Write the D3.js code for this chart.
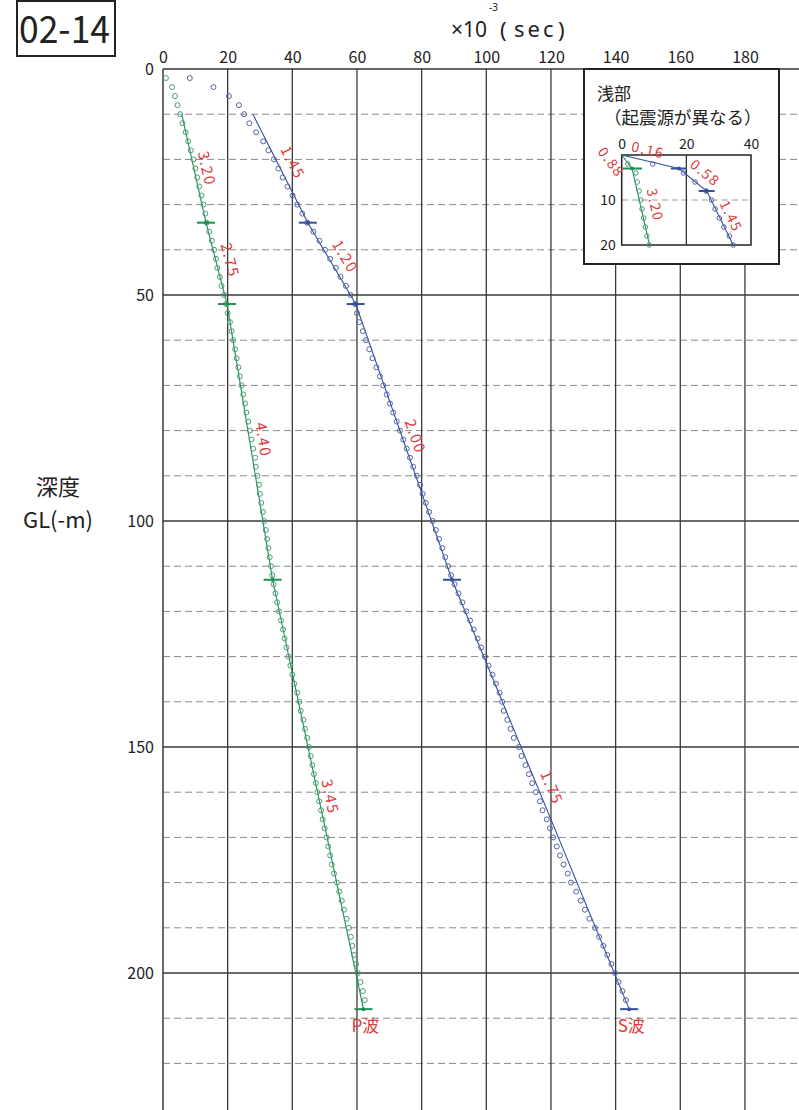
<!DOCTYPE html>
<html>
<head>
<meta charset="utf-8">
<script src="https://cdn.jsdelivr.net/npm/d3@7"></script>
<style>
  body { margin: 0; background: #fff; }
  svg { display: block; font-family: "Noto Sans CJK JP", "Noto Sans", sans-serif; }
</style>
</head>
<body>
<div id="chart"></div>
<script>
// measured depths (m) and arrival times (x10^-3 sec)
const depths = [2,4,6,8,10,12,14,16,18,20,22,24,26,28,30,32,34,36,38,40,42,44,46,48,50,52,54,56,58,60,
  62,64,66,68,70,72,74,76,78,80,82,84,86,88,90,92,94,96,98,100,102,104,106,108,110,112,114,116,118,120,
  122,124,126,128,130,132,134,136,138,140,142,144,146,148,150,152,154,156,158,160,162,164,166,168,170,
  172,174,176,178,180,182,184,186,188,190,192,194,196,198,200,202,204,206];
const pTimes = [0.9,2.8,3.7,4.5,5.3,6.0,7.0,7.8,8.6,9.4,10.0,10.6,11.2,11.9,12.5,13.1,13.5,14.3,15.1,15.8,
  16.4,16.8,17.6,18.1,18.9,19.5,20.0,20.7,21.2,21.7,22.3,22.8,23.3,23.8,24.3,24.8,25.4,25.8,26.4,26.9,
  27.4,27.9,28.5,28.7,29.2,29.7,30.0,30.4,30.9,31.3,31.8,32.2,32.6,33.0,33.4,33.8,34.2,34.8,35.3,35.9,
  36.5,37.1,37.6,38.2,38.8,39.4,40.0,40.6,41.5,42.2,42.6,43.4,43.9,44.6,45.1,45.7,46.2,46.7,47.3,47.7,
  48.3,48.9,49.4,50.0,50.6,51.1,51.7,52.2,52.9,53.8,54.5,55.3,56.0,56.8,57.5,58.1,58.6,59.1,59.7,60.3,
  61.1,61.8,62.4];
const sTimes = [8.3,15.6,20.4,23.5,25.1,26.7,28.8,31.0,32.6,34.3,35.7,37.0,38.5,40.1,41.5,43.1,44.6,46.5,48.4,50.1,
  51.7,53.5,54.9,56.6,58.0,59.4,60.0,60.7,61.8,62.8,63.8,64.8,66.0,67.1,68.1,69.2,70.2,71.2,72.3,73.3,
  74.3,75.4,76.4,77.4,78.5,79.5,80.3,81.3,82.3,83.4,84.4,85.4,86.4,87.3,88.2,89.1,90.2,91.4,92.6,93.8,
  95.0,96.1,97.3,98.4,99.6,100.7,101.9,103.0,104.1,104.9,105.4,106.5,107.5,108.5,110.1,110.9,112.1,113.2,114.2,115.3,
  116.6,117.4,118.7,119.7,120.7,121.8,122.8,123.9,125.2,126.2,127.8,129.2,130.5,131.9,133.6,134.9,136.2,137.4,138.7,139.8,
  140.9,142.1,143.2];

// fitted velocity layers (boundary depths and times on the fitted lines)
const layerDepths = [10, 34, 52, 113, 208];
const pLineTimes = [5.8, 13.3, 19.8, 33.9, 62.0];
const sLineTimes = [27.8, 44.8, 59.6, 89.4, 144.2];
const pVelocities = ['3.20', '2.75', '4.40', '3.45'];
const sVelocities = ['1.45', '1.20', '2.00', '1.75'];
const pLabelTimes = [13.5, 20.7, 31.0, 51.7];
const pLabelDepths = [22, 42.3, 82, 161];
const sLabelTimes = [40.1, 56.3, 78.0, 120.2];
const sLabelDepths = [20.7, 41.5, 81.3, 159];
const waveNames = ['P波', 'S波'];

// shallow part (different source)
const insetDepths = [2,4,6,8,10,12,14,16,18,20];
const insetPTimes = [1.9,4.4,4.8,5.4,5.9,6.3,6.8,7.3,7.8,8.5];
const insetSTimes = [9.6,19.1,22.7,26.1,27.8,28.9,30.2,31.6,33.3,34.5];
const insetPLineDepths = [0, 3, 20];
const insetPLineTimes = [0, 3.2, 8.6];
const insetSLineDepths = [0, 3, 8, 20];
const insetSLineTimes = [0, 17.7, 26.3, 34.5];
const insetPVelocities = ['0.88', '3.20'];
const insetPLabelTimes = [-3.3, 10.3];
const insetPLabelDepths = [1.6, 11.1];
const insetSVelocities = ['0.16', '0.58', '1.45'];
const insetSLabelTimes = [8.1, 25.8, 33.8];
const insetSLabelDepths = [-1.1, 4.0, 13.6];

const xTicks = [0, 20, 40, 60, 80, 100, 120, 140, 160, 180];
const yTicks = [0, 50, 100, 150, 200];
const insetXTicks = [0, 20, 40];
const insetYTicks = [10, 20];

const width = 799;
const height = 1110;
const pColor = '#1d8f52';
const sColor = '#34509c';
const pDot = '#4c9a72';
const sDot = '#5563a8';
const red = '#dc3b3b';

const svg = d3.select('#chart')
  .append('svg')
  .attr('width', width)
  .attr('height', height);

const x = d3.scaleLinear().domain([0, 200]).range([163, 163 + 200 * 3.233]);
const y = d3.scaleLinear().domain([0, 230]).range([69, 69 + 230 * 4.52]);

// grid
const grid = svg.append('g').attr('class', 'grid');
grid.selectAll('line.h')
  .data(d3.range(10, 230, 10))
  .enter()
  .append('line')
  .attr('x1', 163).attr('x2', width)
  .attr('y1', function(d) { return y(d); })
  .attr('y2', function(d) { return y(d); })
  .style('stroke', function(d) { return d % 50 === 0 ? '#3a3a3a' : '#8a8a8a'; })
  .style('stroke-width', function(d) { return d % 50 === 0 ? 1.3 : 1; })
  .style('stroke-dasharray', function(d) { return d % 50 === 0 ? null : '7,4'; });

grid.selectAll('line.v')
  .data(xTicks.concat([200]))
  .enter()
  .append('line')
  .attr('x1', function(d) { return x(d); })
  .attr('x2', function(d) { return x(d); })
  .attr('y1', y(0)).attr('y2', height)
  .style('stroke', '#3a3a3a')
  .style('stroke-width', function(d) { return d === 0 ? 1.5 : 1.3; });

grid.append('line')
  .attr('x1', x(0)).attr('x2', width)
  .attr('y1', y(0)).attr('y2', y(0))
  .style('stroke', '#333').style('stroke-width', 1.5);

// axes
const xAxis = d3.axisTop(x).tickValues(xTicks).tickSize(0).tickPadding(6);
svg.append('g')
  .attr('transform', 'translate(0,' + y(0) + ')')
  .call(xAxis)
  .call(function(g) { g.select('.domain').remove(); })
  .selectAll('text')
  .style('font-size', '16px')
  .style('font-family', '"Noto Sans CJK JP", sans-serif')
  .style('fill', '#222');

const yAxis = d3.axisLeft(y).tickValues(yTicks).tickSize(0).tickPadding(9);
svg.append('g')
  .attr('transform', 'translate(' + x(0) + ',0)')
  .call(yAxis)
  .call(function(g) { g.select('.domain').remove(); })
  .selectAll('text')
  .style('font-size', '16px')
  .style('font-family', '"Noto Sans CJK JP", sans-serif')
  .style('fill', '#222');

// titles
svg.append('rect')
  .attr('x', 17).attr('y', 1).attr('width', 98).attr('height', 55)
  .style('fill', 'none').style('stroke', '#222').style('stroke-width', 2);
svg.append('text')
  .text('02-14')
  .attr('x', 19).attr('y', 43)
  .attr('textLength', 91).attr('lengthAdjust', 'spacingAndGlyphs')
  .style('font-size', '38px').style('fill', '#222');

const unit = svg.append('g')
  .style('font-family', '"Noto Sans", sans-serif')
  .style('fill', '#222');
unit.append('text').text('×10').attr('x', 451).attr('y', 37).style('font-size', '21px');
unit.append('text').text('-3').attr('x', 489).attr('y', 11).style('font-size', '10px');
unit.append('text').text('(').attr('x', 500).attr('y', 38).style('font-size', '22px');
unit.append('text').text('sec').attr('x', 514).attr('y', 37)
  .style('font-size', '22px').style('letter-spacing', '3px');
unit.append('text').text(')').attr('x', 558).attr('y', 38).style('font-size', '22px');

svg.append('text').text('深度').attr('x', 58).attr('y', 495)
  .style('text-anchor', 'middle').style('font-size', '22px').style('fill', '#222');
svg.append('text').text('GL(-m)').attr('x', 23).attr('y', 528)
  .attr('textLength', 70).attr('lengthAdjust', 'spacingAndGlyphs')
  .style('font-size', '22px').style('fill', '#222');

// draws one wave: fitted line, points, boundary ticks and velocity labels
function drawWave(parent, xs, ys, d) {
  const g = parent.append('g');
  const line = d3.line()
    .x(function(p) { return xs(p[0]); })
    .y(function(p) { return ys(p[1]); });
  const nodes = d.lineTimes.map(function(t, i) { return [t, d.lineDepths[i]]; });

  g.append('path')
    .attr('d', line(nodes))
    .style('fill', 'none')
    .style('stroke', d.color)
    .style('stroke-width', 1.1);

  g.selectAll('circle.pt')
    .data(d.times)
    .enter()
    .append('circle')
    .attr('class', 'pt')
    .attr('cx', function(t) { return xs(t); })
    .attr('cy', function(t, i) { return ys(d.depths[i]); })
    .attr('r', d.r)
    .style('fill', 'none')
    .style('stroke', d.dot)
    .style('stroke-width', 1);

  const ticks = nodes.filter(function(p, i) { return d.tickAt.indexOf(i) >= 0; });
  g.selectAll('line.tick')
    .data(ticks)
    .enter()
    .append('line')
    .attr('class', 'tick')
    .attr('x1', function(p) { return xs(p[0]) - d.tickHalf; })
    .attr('x2', function(p) { return xs(p[0]) + d.tickHalf; })
    .attr('y1', function(p) { return ys(p[1]); })
    .attr('y2', function(p) { return ys(p[1]); })
    .style('stroke', d.color)
    .style('stroke-width', 2);
  g.selectAll('circle.tickdot')
    .data(ticks)
    .enter()
    .append('circle')
    .attr('class', 'tickdot')
    .attr('cx', function(p) { return xs(p[0]); })
    .attr('cy', function(p) { return ys(p[1]); })
    .attr('r', 2)
    .style('fill', d.color);

  g.selectAll('text.vel')
    .data(d.labels)
    .enter()
    .append('text')
    .attr('class', 'vel')
    .text(function(s) { return s; })
    .attr('transform', function(s, i) {
      const a = nodes[d.labelSeg[i]], b = nodes[d.labelSeg[i] + 1];
      const ang = Math.atan2(ys(b[1]) - ys(a[1]), xs(b[0]) - xs(a[0])) * 180 / Math.PI;
      return 'translate(' + xs(d.labelTimes[i]) + ',' + ys(d.labelDepths[i]) + ') rotate(' + ang + ')';
    })
    .attr('dy', '0.35em')
    .style('text-anchor', 'middle')
    .style('font-size', d.fontSize)
    .style('letter-spacing', '1.5px')
    .style('fill', red);
}

const main = svg.append('g');
drawWave(main, x, y, {
  times: pTimes, depths: depths, lineTimes: pLineTimes, lineDepths: layerDepths,
  color: pColor, dot: pDot, r: 2.5, tickAt: [1, 2, 3, 4], tickHalf: 9,
  labels: pVelocities, labelTimes: pLabelTimes, labelDepths: pLabelDepths, labelSeg: [0, 1, 2, 3],
  fontSize: '15px'
});
drawWave(main, x, y, {
  times: sTimes, depths: depths, lineTimes: sLineTimes, lineDepths: layerDepths,
  color: sColor, dot: sDot, r: 2.5, tickAt: [1, 2, 3, 4], tickHalf: 9,
  labels: sVelocities, labelTimes: sLabelTimes, labelDepths: sLabelDepths, labelSeg: [0, 1, 2, 3],
  fontSize: '15px'
});

main.selectAll('text.wave')
  .data(waveNames)
  .enter()
  .append('text')
  .attr('class', 'wave')
  .text(function(d) { return d; })
  .attr('x', function(d, i) { return x([pLineTimes, sLineTimes][i][layerDepths.length - 1]) + 2; })
  .attr('y', y(layerDepths[layerDepths.length - 1]) + 23)
  .style('text-anchor', 'middle')
  .style('font-size', '17px')
  .style('fill', red);

// inset: shallow part
const inset = svg.append('g').attr('class', 'inset');
inset.append('rect')
  .attr('x', 584).attr('y', 69).attr('width', 195).attr('height', 195)
  .style('fill', '#fff').style('stroke', '#222').style('stroke-width', 2);

inset.append('text').text('浅部').attr('x', 597).attr('y', 100)
  .style('font-size', '17px').style('fill', '#222');
inset.append('text').text('（起震源が異なる）').attr('x', 604).attr('y', 124)
  .style('font-size', '17.5px').style('fill', '#222');

const xi = d3.scaleLinear().domain([0, 40]).range([621.7, 751]);
const yi = d3.scaleLinear().domain([0, 20]).range([155, 245]);

inset.append('line')
  .attr('x1', xi(0)).attr('x2', xi(40)).attr('y1', yi(10)).attr('y2', yi(10))
  .style('stroke', '#999').style('stroke-dasharray', '6,4');
inset.append('line')
  .attr('x1', xi(20)).attr('x2', xi(20)).attr('y1', yi(0)).attr('y2', yi(20))
  .style('stroke', '#333').style('stroke-width', 1.3);
inset.append('rect')
  .attr('x', xi(0)).attr('y', yi(0)).attr('width', xi(40) - xi(0)).attr('height', yi(20) - yi(0))
  .style('fill', 'none').style('stroke', '#222').style('stroke-width', 1.5);

inset.append('g')
  .attr('transform', 'translate(0,' + yi(0) + ')')
  .call(d3.axisTop(xi).tickValues(insetXTicks).tickSize(0).tickPadding(6))
  .call(function(g) { g.select('.domain').remove(); })
  .selectAll('text')
  .style('font-size', '14px')
  .style('font-family', '"Noto Sans CJK JP", sans-serif')
  .style('fill', '#222');
inset.append('g')
  .attr('transform', 'translate(' + xi(0) + ',0)')
  .call(d3.axisLeft(yi).tickValues(insetYTicks).tickSize(0).tickPadding(6))
  .call(function(g) { g.select('.domain').remove(); })
  .selectAll('text')
  .style('font-size', '14px')
  .style('font-family', '"Noto Sans CJK JP", sans-serif')
  .style('fill', '#222');

drawWave(inset, xi, yi, {
  times: insetPTimes, depths: insetDepths, lineTimes: insetPLineTimes, lineDepths: insetPLineDepths,
  color: pColor, dot: pDot, r: 2.3, tickAt: [1], tickHalf: 10,
  labels: insetPVelocities, labelTimes: insetPLabelTimes, labelDepths: insetPLabelDepths, labelSeg: [0, 1],
  fontSize: '14px'
});
drawWave(inset, xi, yi, {
  times: insetSTimes, depths: insetDepths, lineTimes: insetSLineTimes, lineDepths: insetSLineDepths,
  color: sColor, dot: sDot, r: 2.3, tickAt: [1, 2], tickHalf: 8,
  labels: insetSVelocities, labelTimes: insetSLabelTimes, labelDepths: insetSLabelDepths, labelSeg: [0, 1, 2],
  fontSize: '14px'
});
</script>
</body>
</html>
